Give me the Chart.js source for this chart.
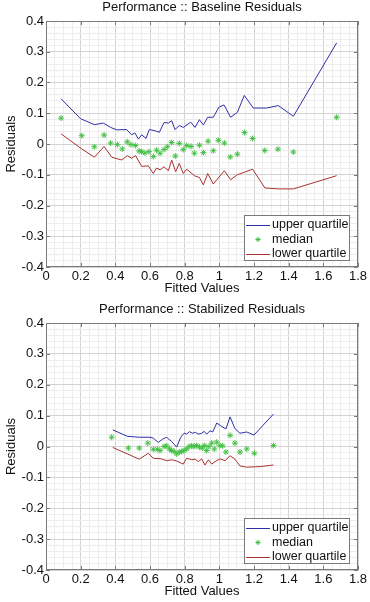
<!DOCTYPE html>
<html>
<head>
<meta charset="utf-8">
<script src="https://cdn.jsdelivr.net/npm/chart.js@4.4.1/dist/chart.umd.min.js"></script>
<style>
  html, body { margin: 0; padding: 0; background: #fff; }
  body { width: 370px; height: 602px; position: relative; overflow: hidden; }
  .box { position: absolute; left: 0; width: 370px; height: 301px; }
</style>
</head>
<body>
<div class="box" style="top:0"><canvas id="baselineChart"></canvas></div>
<div class="box" style="top:302px"><canvas id="stabilizedChart"></canvas></div>
<script>
        // 1. Data
        const xTicks = [0, 0.2, 0.4, 0.6, 0.8, 1, 1.2, 1.4, 1.6, 1.8];
        const yTicks = [-0.4, -0.3, -0.2, -0.1, 0, 0.1, 0.2, 0.3, 0.4];
        const seriesLabels = ['upper quartile', 'median', 'lower quartile'];

        // Baseline residuals
        const baseUpperX = [0.087, 0.2, 0.279, 0.331, 0.373, 0.408, 0.465, 0.494, 0.513, 0.533, 0.552, 0.577, 0.596, 0.629, 0.654, 0.681, 0.706, 0.725, 0.744, 0.769, 0.792, 0.835, 0.860, 0.885, 0.908, 0.933, 0.965, 0.998, 1.027, 1.065, 1.104, 1.144, 1.196, 1.273, 1.340, 1.427, 1.677];
        const baseUpperY = [0.147, 0.082, 0.063, 0.068, 0.054, 0.046, 0.047, 0.030, 0.036, 0.016, 0.030, 0.018, 0.047, 0.043, 0.038, 0.070, 0.068, 0.076, 0.047, 0.060, 0.054, 0.071, 0.054, 0.079, 0.062, 0.087, 0.087, 0.120, 0.127, 0.087, 0.103, 0.158, 0.117, 0.117, 0.125, 0.090, 0.329];
        const baseMedianX = [0.087, 0.206, 0.279, 0.335, 0.373, 0.412, 0.440, 0.469, 0.490, 0.517, 0.537, 0.552, 0.571, 0.594, 0.619, 0.638, 0.658, 0.681, 0.700, 0.725, 0.746, 0.769, 0.792, 0.812, 0.837, 0.856, 0.885, 0.908, 0.935, 0.965, 0.994, 1.029, 1.063, 1.104, 1.146, 1.192, 1.262, 1.338, 1.427, 1.677];
        const baseMedianY = [0.084, 0.027, -0.009, 0.029, 0.003, -0.002, -0.016, 0.007, -0.002, -0.005, -0.023, -0.025, -0.029, -0.025, -0.041, -0.020, -0.030, -0.018, -0.009, 0.005, -0.039, 0.002, -0.018, -0.005, -0.008, -0.030, -0.004, -0.028, 0.009, -0.022, 0.012, 0.003, -0.042, -0.033, 0.037, 0.018, -0.021, -0.017, -0.026, 0.087];
        const baseLowerX = [0.087, 0.206, 0.279, 0.335, 0.379, 0.437, 0.469, 0.494, 0.517, 0.552, 0.590, 0.619, 0.638, 0.658, 0.681, 0.706, 0.725, 0.748, 0.769, 0.792, 0.812, 0.856, 0.885, 0.908, 0.933, 0.965, 1.029, 1.065, 1.104, 1.192, 1.263, 1.340, 1.427, 1.677];
        const baseLowerY = [0.033, -0.016, -0.043, -0.008, -0.043, -0.052, -0.038, -0.046, -0.038, -0.073, -0.071, -0.096, -0.078, -0.084, -0.074, -0.087, -0.052, -0.090, -0.063, -0.096, -0.082, -0.103, -0.109, -0.133, -0.096, -0.130, -0.087, -0.116, -0.100, -0.082, -0.143, -0.146, -0.146, -0.103];

        // Stabilized residuals
        const stabUpperX = [0.385, 0.469, 0.538, 0.600, 0.619, 0.648, 0.673, 0.696, 0.725, 0.754, 0.777, 0.796, 0.812, 0.827, 0.846, 0.862, 0.879, 0.898, 0.913, 0.927, 0.946, 0.962, 0.985, 1.013, 1.038, 1.062, 1.090, 1.119, 1.158, 1.200, 1.312];
        const stabUpperY = [0.054, 0.033, 0.030, 0.030, 0.027, 0.013, 0.024, 0.030, 0.016, -0.002, 0.030, 0.043, 0.040, 0.048, 0.043, 0.046, 0.040, 0.043, 0.049, 0.040, 0.051, 0.047, 0.076, 0.065, 0.057, 0.096, 0.058, 0.043, 0.047, 0.037, 0.105];
        const stabMedianX = [0.379, 0.475, 0.538, 0.587, 0.619, 0.642, 0.658, 0.681, 0.696, 0.712, 0.725, 0.740, 0.754, 0.769, 0.783, 0.796, 0.812, 0.825, 0.840, 0.854, 0.869, 0.885, 0.902, 0.913, 0.927, 0.940, 0.956, 0.971, 0.985, 1.004, 1.019, 1.038, 1.062, 1.090, 1.119, 1.158, 1.202, 1.312];
        const stabMedianY = [0.030, -0.005, -0.005, 0.011, -0.009, -0.009, -0.013, 0.000, 0.002, -0.008, -0.013, -0.016, -0.024, -0.018, -0.016, -0.013, -0.008, 0.000, 0.002, 0.000, 0.003, -0.002, -0.005, 0.003, -0.013, 0.000, 0.011, -0.008, 0.014, 0.003, 0.002, -0.018, 0.036, 0.011, -0.018, -0.008, -0.022, 0.003];
        const stabLowerX = [0.385, 0.538, 0.590, 0.619, 0.667, 0.696, 0.725, 0.754, 0.792, 0.812, 0.840, 0.860, 0.879, 0.898, 0.917, 0.937, 0.956, 0.975, 1.004, 1.033, 1.062, 1.090, 1.119, 1.158, 1.235, 1.312];
        const stabLowerY = [-0.003, -0.041, -0.022, -0.038, -0.040, -0.046, -0.043, -0.047, -0.057, -0.038, -0.043, -0.041, -0.049, -0.040, -0.060, -0.043, -0.057, -0.049, -0.040, -0.046, -0.030, -0.041, -0.063, -0.067, -0.065, -0.060];

        const UPPER = '#2f2fa8';
        const MEDIAN = '#44c044';
        const LOWER = '#a83232';
        const FONT = "'Liberation Sans', Arial, sans-serif";

        const toPoints = (xs, ys) => xs.map((x, i) => ({ x: x, y: ys[i] }));
        const isMajor = (v, step) => Math.abs(v / step - Math.round(v / step)) < 1e-6;

        // 2. Plugin: full axes box, inward ticks, and a MATLAB style legend
        const axesBoxPlugin = {
            id: 'axesBox',
            afterDatasetsDraw: (chart) => {
                const { ctx, chartArea: a, scales } = chart;
                ctx.save();
                ctx.strokeStyle = '#7a7a7a';
                ctx.lineWidth = 1;
                ctx.strokeRect(a.left + 0.5, a.top + 0.5, a.right - a.left - 1, a.bottom - a.top - 1);
                ctx.beginPath();
                xTicks.forEach(v => {
                    const px = Math.round(scales.x.getPixelForValue(v)) + 0.5;
                    ctx.moveTo(px, a.bottom); ctx.lineTo(px, a.bottom - 4);
                    ctx.moveTo(px, a.top); ctx.lineTo(px, a.top + 4);
                });
                yTicks.forEach(v => {
                    const py = Math.round(scales.y.getPixelForValue(v)) + 0.5;
                    ctx.moveTo(a.left, py); ctx.lineTo(a.left + 4, py);
                    ctx.moveTo(a.right, py); ctx.lineTo(a.right - 4, py);
                });
                ctx.stroke();
                ctx.restore();
            },
            afterDraw: (chart) => {
                const { ctx, chartArea: a, data } = chart;
                const w = 106, h = 46;
                const left = a.right - 8 - w, top = a.bottom - 6 - h;
                ctx.save();
                ctx.fillStyle = '#fff';
                ctx.fillRect(left, top, w, h);
                ctx.strokeStyle = '#7a7a7a';
                ctx.lineWidth = 1;
                ctx.strokeRect(left + 0.5, top + 0.5, w - 1, h - 1);
                ctx.font = '12.5px ' + FONT;
                ctx.textBaseline = 'middle';
                data.datasets.forEach((ds, i) => {
                    const y = top + 10 + i * 14.5;
                    if (ds.showLine) {
                        ctx.strokeStyle = ds.borderColor;
                        ctx.beginPath();
                        ctx.moveTo(left + 2, Math.round(y) + 0.5);
                        ctx.lineTo(left + 26, Math.round(y) + 0.5);
                        ctx.stroke();
                    } else {
                        const cx = left + 14, r = 2.6;
                        ctx.strokeStyle = ds.borderColor;
                        ctx.beginPath();
                        ctx.moveTo(cx - r, y); ctx.lineTo(cx + r, y);
                        ctx.moveTo(cx, y - r); ctx.lineTo(cx, y + r);
                        ctx.moveTo(cx - r * 0.7, y - r * 0.7); ctx.lineTo(cx + r * 0.7, y + r * 0.7);
                        ctx.moveTo(cx - r * 0.7, y + r * 0.7); ctx.lineTo(cx + r * 0.7, y - r * 0.7);
                        ctx.stroke();
                    }
                    ctx.fillStyle = '#111';
                    ctx.fillText(ds.label, left + 28, y);
                });
                ctx.restore();
            }
        };

        // 3. Chart factory
        function residualChart(id, title, upper, median, lower, xAxisHeight, xTitlePad) {
            return new Chart(document.getElementById(id), {
                type: 'scatter',
                data: {
                    datasets: [
                        { label: seriesLabels[0], data: upper, showLine: true, borderColor: UPPER, borderWidth: 1, pointRadius: 0, order: 2 },
                        { label: seriesLabels[1], data: median, showLine: false, pointStyle: 'star', pointRadius: 3, borderColor: MEDIAN, backgroundColor: MEDIAN, borderWidth: 1, order: 3 },
                        { label: seriesLabels[2], data: lower, showLine: true, borderColor: LOWER, borderWidth: 1, pointRadius: 0, order: 1 }
                    ]
                },
                options: {
                    responsive: true, maintainAspectRatio: false, animation: false,
                    layout: { padding: { left: 0, right: 12, top: 0, bottom: 0 } },
                    scales: {
                        x: {
                            type: 'linear', min: 0, max: 1.8,
                            afterFit: (s) => { s.height = xAxisHeight; },
                            afterBuildTicks: (s) => {
                                const t = [];
                                for (let i = 0; i <= 36; i++) t.push({ value: +(i * 0.05).toFixed(2) });
                                s.ticks = t;
                            },
                            grid: {
                                drawTicks: false,
                                color: (c) => (c.tick && isMajor(c.tick.value, 0.2)) ? '#d2d2d2' : '#ededed'
                            },
                            border: { display: false },
                            ticks: {
                                autoSkip: false, maxRotation: 0, padding: 2, color: '#111',
                                font: { family: FONT, size: 13 },
                                callback: (v) => isMajor(v, 0.2) ? String(+v.toFixed(1)) : ''
                            },
                            title: { display: true, text: 'Fitted Values', color: '#111', font: { family: FONT, size: 13 }, padding: { top: 0, bottom: xTitlePad } }
                        },
                        y: {
                            type: 'linear', min: -0.4, max: 0.4,
                            afterFit: (s) => { s.width = 46; },
                            afterBuildTicks: (s) => {
                                const t = [];
                                for (let i = 0; i <= 40; i++) t.push({ value: +(-0.4 + i * 0.02).toFixed(2) });
                                s.ticks = t;
                            },
                            grid: {
                                drawTicks: false,
                                color: (c) => (c.tick && isMajor(c.tick.value, 0.1)) ? '#d2d2d2' : '#ededed'
                            },
                            border: { display: false },
                            ticks: {
                                autoSkip: false, padding: 2, color: '#111',
                                font: { family: FONT, size: 13 },
                                callback: (v) => isMajor(v, 0.1) ? String(+v.toFixed(1)) : ''
                            },
                            title: { display: true, text: 'Residuals', color: '#111', font: { family: FONT, size: 13 }, padding: { top: 4, bottom: 0 } }
                        }
                    },
                    plugins: {
                        legend: { display: false },
                        tooltip: { enabled: false },
                        title: {
                            display: true, text: title, fullSize: false, color: '#111',
                            font: { family: FONT, size: 13, weight: 'normal' },
                            padding: { top: 0, bottom: 5.4 }
                        }
                    }
                },
                plugins: [axesBoxPlugin]
            });
        }

        // 4. Top and bottom charts
        residualChart('baselineChart', 'Performance :: Baseline Residuals',
            toPoints(baseUpperX, baseUpperY), toPoints(baseMedianX, baseMedianY), toPoints(baseLowerX, baseLowerY), 34, 5);
        residualChart('stabilizedChart', 'Performance :: Stabilized Residuals',
            toPoints(stabUpperX, stabUpperY), toPoints(stabMedianX, stabMedianY), toPoints(stabLowerX, stabLowerY), 33, 3.5);
</script>
</body>
</html>
